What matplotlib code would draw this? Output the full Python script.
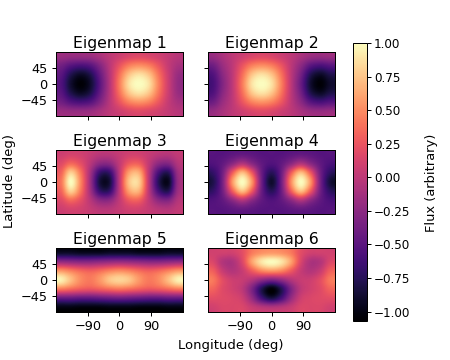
import matplotlib
matplotlib.use('Agg')
import matplotlib.pyplot as plt

# Eigenmap values, rows run 77, 51, 26, 0, -26, -51, -77 deg
# columns run lon -166 to 166 in 13 steps
map1 = [
    [-0.18, -0.20, -0.20, -0.18, -0.10, 0.00, 0.08, 0.15, 0.18, 0.15, 0.10, 0.03, -0.03],
    [-0.38, -0.52, -0.58, -0.52, -0.30, -0.02, 0.24, 0.45, 0.52, 0.45, 0.26, 0.04, -0.10],
    [-0.50, -0.78, -0.92, -0.80, -0.44, -0.04, 0.38, 0.75, 0.88, 0.75, 0.40, 0.07, -0.18],
    [-0.55, -0.88, -1.05, -0.90, -0.50, -0.05, 0.44, 0.88, 1.00, 0.88, 0.46, 0.08, -0.20],
    [-0.50, -0.78, -0.92, -0.80, -0.44, -0.04, 0.38, 0.75, 0.88, 0.75, 0.40, 0.07, -0.18],
    [-0.38, -0.52, -0.58, -0.52, -0.30, -0.02, 0.24, 0.45, 0.52, 0.45, 0.26, 0.04, -0.10],
    [-0.18, -0.20, -0.20, -0.18, -0.10, 0.00, 0.08, 0.15, 0.18, 0.15, 0.10, 0.03, -0.03],
]
map2 = [
    [-0.20, -0.10, 0.00, 0.08, 0.15, 0.18, 0.15, 0.08, 0.00, -0.10, -0.18, -0.20, -0.18],
    [-0.40, -0.18, 0.00, 0.24, 0.45, 0.52, 0.45, 0.26, 0.00, -0.24, -0.50, -0.58, -0.52],
    [-0.55, -0.26, 0.00, 0.36, 0.75, 0.88, 0.75, 0.40, 0.00, -0.36, -0.78, -0.92, -0.80],
    [-0.60, -0.30, 0.00, 0.42, 0.88, 1.00, 0.88, 0.46, 0.00, -0.42, -0.88, -1.05, -0.90],
    [-0.55, -0.26, 0.00, 0.36, 0.75, 0.88, 0.75, 0.40, 0.00, -0.36, -0.78, -0.92, -0.80],
    [-0.40, -0.18, 0.00, 0.24, 0.45, 0.52, 0.45, 0.26, 0.00, -0.24, -0.50, -0.58, -0.52],
    [-0.20, -0.10, 0.00, 0.08, 0.15, 0.18, 0.15, 0.08, 0.00, -0.10, -0.18, -0.20, -0.18],
]
map3 = [
    [0.08, 0.12, 0.10, 0.04, -0.02, -0.02, 0.04, 0.10, 0.10, 0.04, -0.02, -0.04, 0.02],
    [0.18, 0.35, 0.22, -0.02, -0.25, -0.25, 0.02, 0.28, 0.30, 0.02, -0.25, -0.30, -0.05],
    [0.32, 0.80, 0.42, -0.12, -0.68, -0.68, 0.00, 0.60, 0.65, 0.00, -0.60, -0.76, -0.16],
    [0.40, 1.00, 0.50, -0.15, -0.85, -0.85, 0.00, 0.75, 0.80, 0.00, -0.75, -0.95, -0.20],
    [0.32, 0.80, 0.42, -0.12, -0.68, -0.68, 0.00, 0.60, 0.65, 0.00, -0.60, -0.76, -0.16],
    [0.18, 0.35, 0.22, -0.02, -0.25, -0.25, 0.02, 0.28, 0.30, 0.02, -0.25, -0.30, -0.05],
    [0.08, 0.12, 0.10, 0.04, -0.02, -0.02, 0.04, 0.10, 0.10, 0.04, -0.02, -0.04, 0.02],
]
map4 = [
    [-0.52, -0.52, -0.48, -0.45, -0.48, -0.52, -0.52, -0.52, -0.48, -0.45, -0.48, -0.52, -0.52],
    [-0.55, -0.46, -0.25, -0.05, -0.25, -0.46, -0.55, -0.46, -0.25, -0.05, -0.25, -0.46, -0.58],
    [-0.70, -0.38, 0.28, 0.72, 0.28, -0.42, -0.75, -0.42, 0.28, 0.72, 0.28, -0.38, -0.72],
    [-0.80, -0.35, 0.55, 1.00, 0.55, -0.40, -0.90, -0.40, 0.50, 1.00, 0.55, -0.35, -0.85],
    [-0.70, -0.38, 0.28, 0.72, 0.28, -0.42, -0.75, -0.42, 0.28, 0.72, 0.28, -0.38, -0.72],
    [-0.55, -0.46, -0.25, -0.05, -0.25, -0.46, -0.55, -0.46, -0.25, -0.05, -0.25, -0.46, -0.58],
    [-0.52, -0.52, -0.48, -0.45, -0.48, -0.52, -0.52, -0.52, -0.48, -0.45, -0.48, -0.52, -0.52],
]
map5 = [
    [-0.92, -0.92, -0.95, -0.95, -0.95, -0.92, -0.92, -0.92, -0.95, -0.95, -0.95, -0.92, -0.92],
    [-0.22, -0.25, -0.28, -0.28, -0.25, -0.22, -0.20, -0.22, -0.25, -0.28, -0.28, -0.25, -0.22],
    [0.55, 0.45, 0.35, 0.30, 0.36, 0.45, 0.50, 0.45, 0.36, 0.30, 0.35, 0.45, 0.55],
    [0.95, 0.72, 0.50, 0.42, 0.55, 0.75, 0.82, 0.75, 0.55, 0.42, 0.50, 0.72, 0.95],
    [0.42, 0.35, 0.28, 0.25, 0.30, 0.36, 0.40, 0.36, 0.30, 0.25, 0.28, 0.35, 0.42],
    [-0.45, -0.45, -0.48, -0.48, -0.45, -0.42, -0.40, -0.42, -0.45, -0.48, -0.48, -0.45, -0.45],
    [-1.00, -1.00, -1.02, -1.02, -1.02, -1.00, -1.00, -1.00, -1.02, -1.02, -1.02, -1.00, -1.00],
]
map6 = [
    [0.10, 0.10, 0.10, 0.20, 0.42, 0.52, 0.55, 0.52, 0.42, 0.20, 0.10, 0.10, 0.10],
    [0.15, -0.05, -0.08, 0.15, 0.60, 0.90, 1.00, 0.90, 0.60, 0.15, -0.08, -0.05, 0.15],
    [0.30, 0.05, -0.05, 0.05, 0.28, 0.48, 0.55, 0.48, 0.28, 0.05, -0.05, 0.05, 0.30],
    [0.42, 0.20, 0.08, 0.05, -0.05, -0.22, -0.32, -0.22, -0.05, 0.05, 0.08, 0.20, 0.42],
    [0.32, 0.18, 0.10, 0.00, -0.32, -0.78, -1.05, -0.78, -0.32, 0.00, 0.10, 0.18, 0.32],
    [0.20, 0.18, 0.15, 0.08, -0.20, -0.60, -0.82, -0.60, -0.20, 0.08, 0.15, 0.18, 0.20],
    [0.10, 0.15, 0.15, 0.15, 0.05, -0.02, -0.05, -0.02, 0.05, 0.15, 0.15, 0.15, 0.10],
]
maps = [map1, map2, map3, map4, map5, map6]
titles = ['Eigenmap 1', 'Eigenmap 2', 'Eigenmap 3', 'Eigenmap 4', 'Eigenmap 5', 'Eigenmap 6']
lon_ticks = [-90, 0, 90]
lat_ticks = [-45, 0, 45]
cbar_ticks = [-1.0, -0.75, -0.5, -0.25, 0.0, 0.25, 0.5, 0.75, 1.0]
vmin, vmax = -1.07, 1.0

W, H = 450, 360
fig = plt.figure(figsize=(5, 4), dpi=90)

# pixel boxes of the panels, left/top corners
lefts = [56, 208]
tops = [52, 150, 248]
pw, ph = 127, 64

for i, data in enumerate(maps):
    r, c = i // 2, i % 2
    ax = fig.add_axes([lefts[c] / W, 1 - (tops[r] + ph) / H, pw / W, ph / H])
    im = ax.imshow(data, cmap='magma', vmin=vmin, vmax=vmax, aspect='auto',
                   extent=(-180, 180, -90, 90), interpolation='catrom')
    ax.set_title(titles[i], fontsize=12.6, pad=3.5)
    ax.set_xticks(lon_ticks)
    ax.set_yticks(lat_ticks)
    ax.tick_params(labelsize=10.3, length=3.5, pad=3)
    if r < 2:
        ax.set_xticklabels([])
    if c > 0:
        ax.set_yticklabels([])

cax = fig.add_axes([353 / W, 1 - 321 / H, 14 / W, 278 / H])
cb = fig.colorbar(im, cax=cax, ticks=cbar_ticks)
cb.ax.set_yticklabels(['\u22121.00', '\u22120.75', '\u22120.50', '\u22120.25', '0.00',
                       '0.25', '0.50', '0.75', '1.00'])
cb.ax.tick_params(labelsize=9.6, length=3.5, pad=2)
fig.text(432 / W, 1 - 183 / H, 'Flux (arbitrary)', rotation=90, fontsize=10.4,
         ha='center', va='center')

fig.text(231 / W, 1 - 345 / H, 'Longitude (deg)', fontsize=10.5, ha='center', va='center')
fig.text(10 / W, 1 - 181 / H, 'Latitude (deg)', rotation=90, fontsize=10.5,
         ha='center', va='center')

fig.savefig('out.png', dpi=90)
